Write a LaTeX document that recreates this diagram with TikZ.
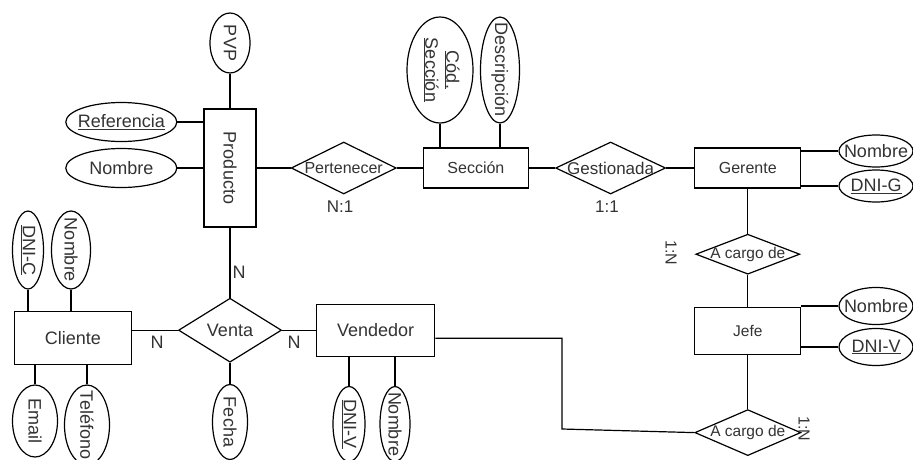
\documentclass[tikz,border=0pt]{standalone}
\usepackage{fontspec}
\setmainfont{Liberation Sans}
\usetikzlibrary{shapes.geometric,positioning}
\definecolor{txtgray}{HTML}{333333}
\newcommand{\atxt}[1]{\makebox[0pt]{#1}}
\newcommand{\fs}[1]{\fontsize{#1}{#1}\selectfont}

\begin{document}
\begin{tikzpicture}[x=1pt,y=-1pt,line width=1.2pt,
  entity/.style={draw, rectangle, inner sep=0pt, fill=white, text=txtgray, font=\fs{18}},
  rel/.style={draw, diamond, inner sep=0pt, fill=white, text=txtgray, font=\fs{17}},
  attr/.style={draw, ellipse, inner sep=0pt, fill=white, text=txtgray, font=\fs{18}},
  vattr/.style={attr, rotate=-90},
  card/.style={inner sep=0pt, text=txtgray, font=\fs{17}}]

  \useasboundingbox (0,0) rectangle (913,459);
  \clip (0,0) rectangle (913,459);

  % Nodes

  \node[entity, minimum width=52, minimum height=118] (producto) at (230,168) {\rotatebox{-90}{Producto}} ; %
  \node[rel, right=34pt of producto, minimum width=105, minimum height=52, font=\fs{16}] (pertenecer) {\atxt{Pertenecer}} ; %
  \node[entity, right=26pt of pertenecer, minimum width=105, minimum height=40, font=\fs{16}] (seccion) {Sección} ; %
  \node[rel, right=26pt of seccion, minimum width=110, minimum height=52] (gestionada) {\atxt{Gestionada}} ; %
  \node[entity, right=28pt of gestionada, minimum width=106, minimum height=40, font=\fs{16}] (gerente) {Gerente} ; %
  \node[rel, below=45pt of gerente, minimum width=104, minimum height=40, font=\fs{15.5}] (cargoa) {\atxt{A cargo de}} ; %
  \node[entity, below=32pt of cargoa, minimum width=106, minimum height=47, font=\fs{15.5}] (jefe) {Jefe} ; %
  \node[rel, below=54pt of jefe, minimum width=106, minimum height=46, font=\fs{15.5}] (cargob) {\atxt{A cargo de}} ; %
  \node[rel, below=70pt of producto, minimum width=103, minimum height=64, font=\fs{18}] (venta) {\atxt{Venta}} ; %
  \node[entity, left=46pt of venta, yshift=-8pt, minimum width=117, minimum height=53] (cliente) {Cliente} ; %
  \node[entity, right=34pt of venta, minimum width=118, minimum height=52] (vendedor) {Vendedor} ; %

  % More nodes
  \node[vattr, minimum width=60, minimum height=40] (pvp) at (230,43) {\atxt{PVP}} ; %
  \node[attr, left=26pt of producto, yshift=46pt, minimum width=111, minimum height=39] (referencia) {\atxt{\underline{Referencia}}} ; %
  \node[attr, left=26pt of producto, minimum width=111, minimum height=39] (pnombre) {\atxt{Nombre}} ; %
  \node[vattr, minimum width=106, minimum height=66] (codseccion) at (440,70) {\atxt{\fontsize{18}{21}\selectfont\begin{tabular}{@{}c@{}}\underline{Cód.}\\ \underline{Sección}\end{tabular}}} ; %
  \node[vattr, minimum width=106, minimum height=39] (descripcion) at (500,70) {\atxt{Descripción}} ; %
  \node[attr, minimum width=74, minimum height=32] (gnombre) at (876,151) {\atxt{Nombre}} ; %
  \node[attr, minimum width=74, minimum height=32] (dnig) at (876,186) {\atxt{\underline{DNI-G}}} ; %
  \node[attr, minimum width=74, minimum height=37] (jnombre) at (876,306) {\atxt{Nombre}} ; %
  \node[attr, minimum width=74, minimum height=37] (dniv) at (876,347) {\atxt{\underline{DNI-V}}} ; %
  \node[vattr, minimum width=78, minimum height=31] (dnic) at (28,250) {\atxt{\underline{DNI-C}}} ; %
  \node[vattr, minimum width=78, minimum height=39] (cnombre) at (71,250) {\atxt{Nombre}} ; %
  \node[vattr, minimum width=72, minimum height=45] (email) at (35,421) {\atxt{Email}} ; %
  \node[vattr, minimum width=80, minimum height=45] (telefono) at (87,425) {\atxt{Teléfono}} ; %
  \node[vattr, minimum width=75, minimum height=35] (fecha) at (230,422) {\atxt{Fecha}} ; %
  \node[vattr, minimum width=75, minimum height=32] (vdniv) at (349,424) {\atxt{\underline{DNI-V}}} ; %
  \node[vattr, minimum width=75, minimum height=30] (vnombre) at (395,424) {\atxt{Nombre}} ; %

  % Cardinalities
  \node[card] (cpert) at (340,207) {N:1} ; %
  \node[card] (cgest) at (607,207) {1:1} ; %
  \node[card, rotate=-90, font=\fs{16}] (ccargoa) at (671,253) {1:N} ; %
  \node[card, rotate=-90, font=\fs{16}] (ccargob) at (804,429) {1:N} ; %
  \node[card, font=\fs{18}] (cprod) at (239,272) {N} ; %
  \node[card, font=\fs{18}] (ccli) at (157,342) {N} ; %
  \node[card, font=\fs{18}] (cvend) at (294,342) {N} ; %

  \coordinate (codo) at (562,429) ; %

  % Edges
  \draw (pvp) -- (producto) ; %
  \draw (referencia) -- (referencia -| producto.west) ; %
  \draw (pnombre) -- (producto) ; %
  \draw (producto) -- (pertenecer) ; %
  \draw (pertenecer) -- (seccion) ; %
  \draw (seccion) -- (gestionada) ; %
  \draw (gestionada) -- (gerente) ; %
  \draw (codseccion) -- (codseccion |- seccion.north) ; %
  \draw (descripcion) -- (descripcion |- seccion.north) ; %
  \draw (gnombre) -- (gnombre -| gerente.east) ; %
  \draw (dnig) -- (dnig -| gerente.east) ; %
  \draw (gerente) -- (cargoa) ; %
  \draw (cargoa) -- (jefe) ; %
  \draw (jefe) -- (cargob) ; %
  \draw (jnombre) -- (jnombre -| jefe.east) ; %
  \draw (dniv) -- (dniv -| jefe.east) ; %
  \draw (producto) -- (venta) ; %
  \draw (venta.west) -- (venta.west -| cliente.east) ; %
  \draw (venta.east) -- (venta.east -| vendedor.west) ; %
  \draw (dnic) -- (dnic |- cliente.north) ; %
  \draw (cnombre) -- (cnombre |- cliente.north) ; %
  \draw (email) -- (email |- cliente.south) ; %
  \draw (telefono) -- (telefono |- cliente.south) ; %
  \draw (fecha) -- (venta) ; %
  \draw (vdniv) -- (vdniv |- vendedor.south) ; %
  \draw (vnombre) -- (vnombre |- vendedor.south) ; %
  \draw ([yshift=-8pt]vendedor.east) -| (codo) -- (cargob.west) ; %

\end{tikzpicture}
\end{document}
